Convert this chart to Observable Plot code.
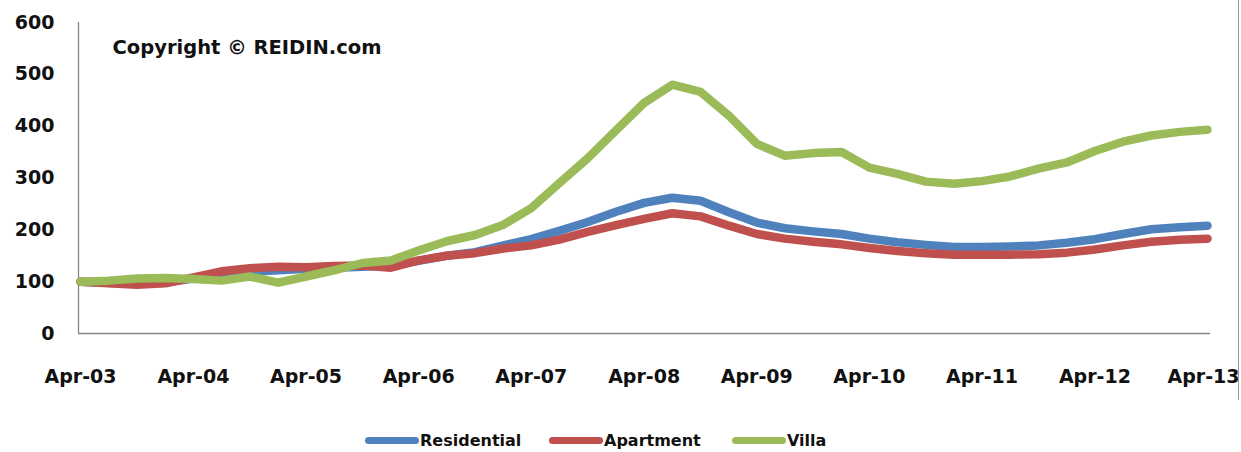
<!DOCTYPE html>
<html>
<head>
<meta charset="utf-8">
<script src="https://cdn.jsdelivr.net/npm/d3@7"></script>
<script src="https://cdn.jsdelivr.net/npm/@observablehq/plot@0.6"></script>
<style>
  html, body { margin: 0; padding: 0; background: #fff; }
  #wrap { position: relative; width: 1241px; height: 452px; overflow: hidden; font-family: "DejaVu Sans", sans-serif; }
  #legend { position: absolute; left: 0; top: 428px; width: 1241px; height: 24px; }
  .item { position: absolute; top: 0; display: flex; align-items: center; font-weight: bold; font-size: 16px; color: #111; height: 24px; }
  .sw { width: 54px; height: 7px; border-radius: 4px; margin-right: 1px; }
  #border { position: absolute; left: 1238px; top: 0; width: 1px; height: 400px; background: #9a9a9a; }
</style>
</head>
<body>
<div id="wrap">
  <div id="chart"></div>
  <div id="border"></div>
  <div id="legend"></div>
</div>
<script>
// Quarterly index values, Apr-03 .. Apr-13 (Apr-03 = 100)
const seriesNames = ["Residential", "Apartment", "Villa"];
const seriesColors = ["#4F81BD", "#C0504D", "#9BBB59"];
const residential = [100, 98, 96, 99, 106, 114, 119, 122, 125, 127, 129, 131, 140, 150, 157, 170, 182, 198, 215, 235, 252, 262, 256, 234, 214, 203, 197, 192, 183, 176, 171, 167, 167, 168, 170, 175, 182, 192, 201, 205, 208];
const apartment   = [100, 97, 94, 97, 108, 120, 126, 129, 128, 130, 131, 127, 141, 150, 155, 164, 170, 181, 196, 209, 221, 232, 226, 208, 192, 183, 177, 172, 165, 159, 155, 152, 152, 152, 153, 156, 162, 170, 177, 181, 183];
const villa       = [100, 102, 106, 107, 105, 102, 110, 98, 110, 122, 136, 141, 160, 178, 190, 210, 242, 290, 338, 392, 445, 480, 466, 420, 366, 343, 348, 350, 320, 308, 293, 289, 294, 303, 318, 330, 352, 370, 382, 389, 393];
const xTickLabels = ["Apr-03","Apr-04","Apr-05","Apr-06","Apr-07","Apr-08","Apr-09","Apr-10","Apr-11","Apr-12","Apr-13"];
const yTicks = [0, 100, 200, 300, 400, 500, 600];

const start = new Date(Date.UTC(2003, 3, 1));
const end = new Date(Date.UTC(2013, 3, 1));
const quarters = d3.utcMonths(start, d3.utcMonth.offset(end, 1), 3);
const yearTicks = d3.utcMonths(start, d3.utcMonth.offset(end, 1), 12);
const tickLabel = new Map(yearTicks.map((d, i) => [+d, xTickLabels[i]]));

const all = [residential, apartment, villa];
const rows = [];
all.forEach((vals, s) => vals.forEach((v, i) => rows.push({date: quarters[i], value: v, series: seriesNames[s]})));

const font = "DejaVu Sans, sans-serif";
const axisOpts = {tickSize: 0, tickPadding: 36, label: null, tickFormat: d => tickLabel.get(+d), fontSize: 19, fontWeight: "bold"};
const chart = Plot.plot({
  width: 1241,
  height: 400,
  marginLeft: 80,
  marginRight: 34,
  marginTop: 22,
  marginBottom: 67,
  style: {fontFamily: font, fontSize: "19px", fontWeight: "bold", color: "#111", background: "#fff", overflow: "visible"},
  x: {type: "utc", domain: [start, end]},
  y: {domain: [0, 600]},
  color: {domain: seriesNames, range: seriesColors},
  marks: [
    Plot.ruleY([0], {x1: start, x2: end, stroke: "#868686", strokeWidth: 1.3, insetLeft: -2, insetRight: -3}),
    Plot.ruleX([start], {y1: 0, y2: 600, stroke: "#868686", strokeWidth: 1.3, dx: -2}),
    Plot.axisY({ticks: yTicks, tickSize: 0, tickPadding: 26, label: null, fontSize: 19, fontWeight: "bold"}),
    Plot.axisX({...axisOpts, ticks: yearTicks.slice(0, -1)}),
    Plot.axisX({...axisOpts, ticks: yearTicks.slice(-1), dx: -4}),
    Plot.line(rows, {x: "date", y: "value", z: "series", stroke: "series", strokeWidth: 8.5, strokeLinejoin: "round", strokeLinecap: "round"}),
    Plot.text(["Copyright © REIDIN.com"], {frameAnchor: "top-left", dx: 32, dy: 18, text: d => d, fontSize: 19.5, fontWeight: "bold", textAnchor: "start", fill: "#111"})
  ]
});
document.getElementById("chart").appendChild(chart);

const legend = document.getElementById("legend");
const lefts = [365, 549, 732];
seriesNames.forEach((n, i) => {
  const it = document.createElement("div");
  it.className = "item";
  it.style.left = lefts[i] + "px";
  const sw = document.createElement("div");
  sw.className = "sw";
  sw.style.background = seriesColors[i];
  const t = document.createElement("span");
  t.textContent = n;
  it.appendChild(sw);
  it.appendChild(t);
  legend.appendChild(it);
});
</script>
</body>
</html>
